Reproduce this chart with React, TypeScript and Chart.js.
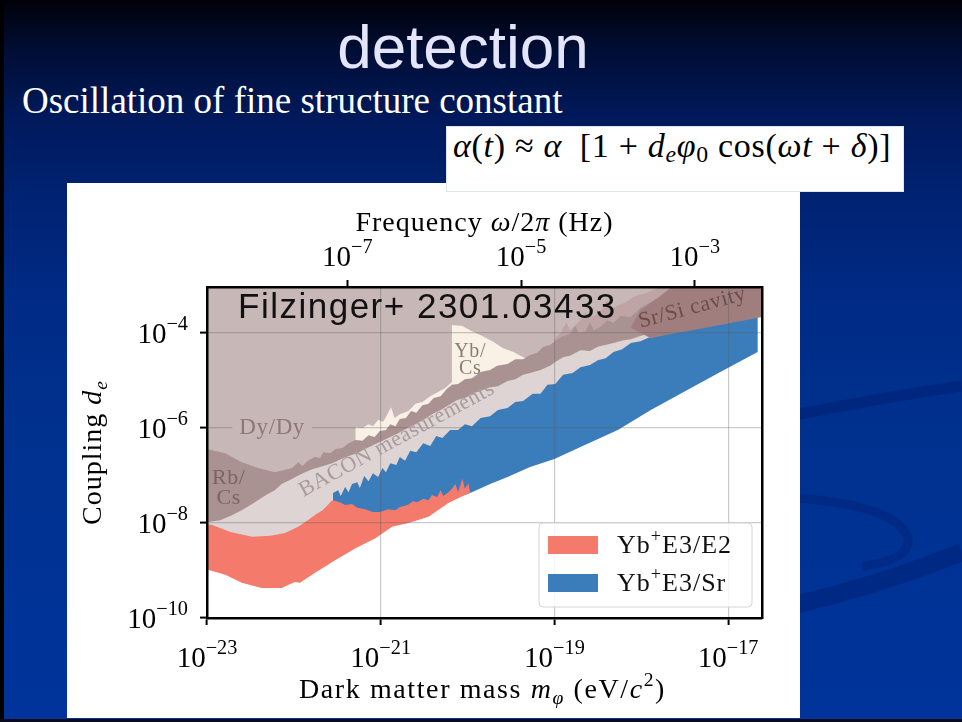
import React, { useEffect, useRef } from 'react';
import { Chart, registerables } from 'chart.js';

Chart.register(...registerables);

const SERIF = '"Liberation Serif", "Times New Roman", serif';
const SANS = '"Liberation Sans", Arial, sans-serif';

// Axis extents (log10 of the values)
const LOG_MASS_RANGE = [-23, -16.61];
const LOG_COUPLING_RANGE = [-10, -3.03];
const MASS_TICKS = [1e-23, 1e-21, 1e-19, 1e-17];
const COUPLING_TICKS = [1e-10, 1e-8, 1e-6, 1e-4];
const FREQUENCY_TICKS = [1e-7, 1e-5, 1e-3];
const HZ_PER_EV = 2.418e14; // f = m c^2 / h

// Region outlines as [log10 m (eV/c^2), log10 d_e]
type Pt = [number, number];

const dyDyRegion: Pt[] = [
  [-23.05, -3.0], [-16.55, -3.0], [-16.55, -3.31], [-17.32, -3.41], [-17.89, -3.73],
  [-18.47, -4.08], [-19.05, -4.48], [-19.62, -4.91], [-20.18, -5.26], [-20.78, -5.96],
  [-21.29, -6.38], [-21.93, -6.86], [-22.39, -7.16], [-23.05, -7.09],
];

const ybCsRegion: Pt[] = [
  [-21.29, -5.98], [-21.21, -6.0], [-21.14, -5.92], [-21.09, -5.96], [-21.03, -5.83],
  [-20.97, -5.87], [-20.91, -5.66], [-20.88, -5.56], [-20.84, -5.79], [-20.78, -5.71],
  [-20.68, -5.64], [-20.6, -5.49], [-20.52, -5.45], [-20.43, -5.33], [-20.34, -5.24],
  [-20.26, -5.16], [-20.18, -5.03], [-20.18, -3.83], [-20.06, -3.85], [-19.95, -3.96],
  [-19.83, -4.06], [-19.7, -4.19], [-19.59, -4.32], [-19.47, -4.4], [-19.36, -4.51],
  [-19.25, -4.57], [-19.25, -4.67], [-19.74, -4.93], [-20.18, -5.26], [-20.78, -5.96],
  [-21.29, -6.4],
];

const ybE3SrRegion: Pt[] = [
  [-21.55, -6.88], [-20.2, -5.73], [-19.05, -4.61], [-17.89, -3.83], [-17.32, -3.52],
  [-16.66, -3.31], [-16.66, -4.4], [-17.09, -4.82], [-17.47, -5.2], [-17.89, -5.62],
  [-18.27, -6.04], [-18.7, -6.4], [-19.0, -6.65], [-19.28, -6.82], [-19.54, -7.03],
  [-19.74, -7.18], [-19.97, -7.37], [-20.2, -7.52], [-20.54, -7.71], [-21.01, -7.98],
  [-21.41, -7.77], [-21.55, -7.62],
];

const ybE3E2Region: Pt[] = [
  [-23.05, -7.79], [-22.04, -7.73], [-21.55, -7.52], [-21.47, -7.56], [-21.41, -7.62],
  [-21.33, -7.6], [-21.27, -7.68], [-21.18, -7.71], [-21.09, -7.77], [-21.01, -7.77],
  [-20.91, -7.71], [-20.83, -7.73], [-20.78, -7.66], [-20.69, -7.62], [-20.63, -7.54],
  [-20.58, -7.56], [-20.51, -7.49], [-20.45, -7.52], [-20.41, -7.41], [-20.35, -7.45],
  [-20.31, -7.31], [-20.28, -7.43], [-20.22, -7.35], [-20.18, -7.28], [-20.14, -7.18],
  [-20.11, -7.35], [-20.06, -7.07], [-20.03, -7.28], [-19.99, -7.16], [-19.97, -7.37],
  [-20.03, -7.41], [-20.22, -7.58], [-20.45, -7.87], [-20.68, -8.0], [-20.87, -8.08],
  [-21.06, -8.32], [-21.29, -8.53], [-21.52, -8.78], [-21.76, -9.05], [-21.93, -9.26],
  [-21.99, -9.24], [-22.14, -9.37], [-22.37, -9.37], [-22.6, -9.26], [-22.79, -9.09],
  [-23.05, -8.95],
];

const baconRegion: Pt[] = [
  [-23.05, -8.0], [-22.94, -8.04], [-22.73, -8.19], [-22.48, -8.29], [-22.27, -8.27],
  [-22.1, -8.21], [-21.95, -8.08], [-21.84, -7.94], [-21.74, -7.81], [-21.67, -7.73],
  [-21.61, -7.62], [-21.56, -7.52], [-21.55, -7.37], [-21.49, -7.31], [-21.46, -7.43],
  [-21.41, -7.24], [-21.37, -7.35], [-21.33, -7.18], [-21.27, -7.14], [-21.24, -7.26],
  [-21.19, -7.01], [-21.14, -7.12], [-21.09, -6.95], [-21.03, -7.03], [-20.98, -6.84],
  [-20.94, -6.93], [-20.89, -6.74], [-20.82, -6.78], [-20.78, -6.61], [-20.72, -6.69],
  [-20.66, -6.48], [-20.59, -6.51], [-20.51, -6.32], [-20.43, -6.38], [-20.36, -6.17],
  [-20.29, -6.21], [-20.2, -6.04], [-20.11, -6.04], [-20.03, -5.92], [-19.95, -5.96],
  [-19.85, -5.79], [-19.74, -5.75], [-19.65, -5.62], [-19.54, -5.58], [-19.45, -5.45],
  [-19.36, -5.43], [-19.25, -5.28], [-19.16, -5.28], [-19.08, -5.09], [-18.99, -5.07],
  [-18.9, -4.88], [-18.79, -4.84], [-18.7, -4.72], [-18.59, -4.67], [-18.5, -4.57],
  [-18.41, -4.53], [-18.32, -4.4], [-18.22, -4.34], [-18.12, -4.21], [-18.01, -4.17],
  [-17.89, -4.08], [-17.89, -3.89], [-18.47, -4.11], [-19.05, -4.46], [-19.62, -4.93],
  [-20.18, -5.28], [-20.78, -6.0], [-21.29, -6.4], [-21.93, -6.88], [-22.39, -7.2],
  [-23.05, -7.31],
];

const srSiEdgeRegion: Pt[] = [
  [-19.01, -4.15], [-18.93, -4.0], [-18.86, -3.77], [-18.82, -3.94], [-18.7, -3.73],
  [-18.64, -3.56], [-18.59, -3.68], [-18.47, -3.56], [-18.39, -3.31], [-18.33, -3.47],
  [-18.18, -3.35], [-18.07, -3.22], [-17.95, -3.16], [-17.84, -3.07], [-17.72, -3.0],
  [-17.32, -3.0], [-17.32, -3.52], [-18.01, -3.83], [-18.47, -4.11], [-18.93, -4.4],
];

const rbCsRegion: Pt[] = [
  [-23.05, -6.42], [-22.79, -6.53], [-22.6, -6.72], [-22.41, -6.84], [-22.22, -6.93],
  [-22.1, -6.88], [-22.02, -6.84], [-21.95, -6.72], [-21.9, -6.8], [-21.84, -6.69],
  [-21.76, -6.61], [-21.7, -6.63], [-21.66, -6.51], [-21.58, -6.53], [-21.52, -6.44],
  [-21.44, -6.42], [-21.37, -6.32], [-21.29, -6.25], [-21.21, -6.27], [-21.14, -6.15],
  [-21.07, -6.19], [-21.01, -6.06], [-20.94, -6.04], [-20.89, -5.92], [-20.83, -5.96],
  [-20.78, -5.81], [-20.71, -5.79], [-20.65, -5.64], [-20.59, -5.68], [-20.52, -5.52],
  [-20.45, -5.49], [-20.39, -5.37], [-20.31, -5.33], [-20.24, -5.18], [-20.18, -5.09],
  [-20.11, -5.07], [-20.03, -4.97], [-19.95, -4.95], [-19.85, -4.82], [-19.74, -4.78],
  [-19.66, -4.69], [-19.54, -4.65], [-19.45, -4.55], [-19.36, -4.55], [-19.28, -4.46],
  [-19.2, -4.42], [-19.13, -4.29], [-19.05, -4.25], [-18.98, -4.15], [-18.9, -4.06],
  [-18.82, -4.02], [-18.76, -3.85], [-18.72, -4.0], [-18.64, -3.96], [-18.59, -3.77],
  [-18.55, -3.94], [-18.47, -3.87], [-18.39, -3.73], [-18.32, -3.79], [-18.24, -3.64],
  [-18.12, -3.66], [-18.01, -3.47], [-17.81, -3.26], [-17.63, -3.09], [-17.32, -3.09],
  [-16.55, -3.09],
  [-16.55, -3.41], [-17.32, -3.68], [-17.89, -4.0], [-18.01, -4.06], [-18.12, -4.13],
  [-18.2, -4.15], [-18.32, -4.21], [-18.5, -4.29], [-18.59, -4.38], [-18.7, -4.36],
  [-18.82, -4.48], [-18.9, -4.51], [-18.99, -4.61], [-19.05, -4.69], [-19.16, -4.78],
  [-19.28, -4.84], [-19.36, -4.88], [-19.45, -4.97], [-19.54, -5.01], [-19.65, -5.12],
  [-19.74, -5.14], [-19.85, -5.22], [-19.93, -5.26], [-20.03, -5.37], [-20.12, -5.41],
  [-20.22, -5.52], [-20.31, -5.62], [-20.41, -5.71], [-20.51, -5.83], [-20.6, -5.92],
  [-20.69, -6.0], [-20.8, -6.11], [-20.89, -6.19], [-20.98, -6.27], [-21.09, -6.36],
  [-21.18, -6.44], [-21.27, -6.53], [-21.37, -6.59], [-21.47, -6.67], [-21.56, -6.74],
  [-21.66, -6.8], [-21.78, -6.86], [-21.87, -6.93], [-21.96, -7.01], [-22.04, -7.09],
  [-22.14, -7.18], [-22.22, -7.31], [-22.3, -7.39], [-22.37, -7.47], [-22.48, -7.6],
  [-22.6, -7.73], [-22.73, -7.85], [-22.85, -7.94], [-23.05, -8.0],
];

const srSiRegion: Pt[] = [
  [-17.63, -3.0], [-16.55, -3.0], [-16.55, -3.64], [-16.97, -3.79], [-17.35, -3.92],
  [-17.66, -4.02], [-17.89, -4.11], [-18.12, -3.89], [-18.01, -3.52], [-17.81, -3.26],
];

// Drawing order: first entry is the lowest layer
const REGIONS = [
  { label: 'Dy/Dy', outline: dyDyRegion, color: '#c8b7b7' },
  { label: 'Yb/Cs', outline: ybCsRegion, color: '#f9f0e6' },
  { label: 'Yb+E3/Sr', outline: ybE3SrRegion, color: '#3b7cba' },
  { label: 'Yb+E3/E2', outline: ybE3E2Region, color: '#f47b6b' },
  { label: 'BACON measurements', outline: baconRegion, color: '#ded4d4' },
  { label: 'Sr/Si cavity edge', outline: srSiEdgeRegion, color: '#bea4a4' },
  { label: 'Rb/Cs', outline: rbCsRegion, color: '#aa9292' },
  { label: 'Sr/Si cavity', outline: srSiRegion, color: '#a17e7e' },
];

const LEGEND_ENTRIES = ['Yb+E3/E2', 'Yb+E3/Sr'];

// In-plot annotations, anchored in data coordinates [log10 m, log10 d_e]
const ANNOTATIONS = [
  { lines: ['Dy/Dy'], at: [-22.25, -6.0], color: '#8e7777', size: 23, angle: 0, align: 'center', baseline: 'middle', box: '#c8b7b7', gap: 0 },
  { lines: ['Rb/', 'Cs'], at: [-22.75, -7.18], color: '#7b6464', size: 22, angle: 0, align: 'center', baseline: 'alphabetic', box: '', gap: 20 },
  { lines: ['Yb/', 'Cs'], at: [-19.97, -4.51], color: '#8d7c70', size: 20, angle: 0, align: 'center', baseline: 'alphabetic', box: '', gap: 17 },
  { lines: ['BACON measurements'], at: [-21.89, -7.45], color: '#ab9b9b', size: 22, angle: -28.5, align: 'left', baseline: 'alphabetic', box: '', gap: 0 },
  { lines: ['Sr/Si cavity'], at: [-18.01, -3.89], color: '#6c4d4d', size: 22, angle: -15, align: 'left', baseline: 'alphabetic', box: '', gap: 0 },
];

type Seg = { text: string; italic?: boolean; scale?: number; rise?: number };

const MASS_TITLE: Seg[] = [
  { text: 'Dark matter mass ' }, { text: 'm', italic: true },
  { text: '\u03c6', italic: true, scale: 0.7, rise: -0.2 }, { text: ' (eV/' },
  { text: 'c', italic: true }, { text: '2', scale: 0.7, rise: 0.42 }, { text: ')' },
];
const FREQUENCY_TITLE: Seg[] = [
  { text: 'Frequency ' }, { text: '\u03c9', italic: true }, { text: '/2' },
  { text: '\u03c0', italic: true }, { text: ' (Hz)' },
];
const COUPLING_TITLE: Seg[] = [
  { text: 'Coupling ' }, { text: 'd', italic: true }, { text: 'e', italic: true, scale: 0.7, rise: -0.2 },
];
const TAG = 'Filzinger+ 2301.03433';

function drawRich(ctx: any, segs: Seg[], x: number, y: number, size: number, align: string, spacing = 0) {
  const fonts = segs.map((s) => `${s.italic ? 'italic ' : ''}${(size * (s.scale ?? 1)).toFixed(1)}px ${SERIF}`);
  ctx.letterSpacing = `${spacing}px`;
  const widths = segs.map((s, i) => {
    ctx.font = fonts[i];
    return ctx.measureText(s.text).width;
  });
  const total = widths.reduce((a, b) => a + b, 0);
  let cx = align === 'left' ? x : align === 'center' ? x - total / 2 : x - total;
  ctx.textAlign = 'left';
  ctx.textBaseline = 'alphabetic';
  segs.forEach((s, i) => {
    ctx.font = fonts[i];
    ctx.fillText(s.text, cx, y - (s.rise ?? 0) * size);
    cx += widths[i];
  });
  ctx.letterSpacing = '0px';
}

function powerLabel(v: number): Seg[] {
  const e = Math.round(Math.log10(v));
  return [{ text: '10' }, { text: (e < 0 ? '\u2212' : '') + Math.abs(e), scale: 0.7, rise: 0.45 }];
}

const decorations = {
  id: 'decorations',
  afterDraw(chart: any) {
    const { ctx, chartArea: area, scales } = chart;
    const xs = scales.x;
    const ys = scales.y;
    const fs = scales.freq;
    ctx.save();
    ctx.fillStyle = '#000';

    // tick labels
    xs.ticks.forEach((t: any) => drawRich(ctx, powerLabel(t.value), xs.getPixelForValue(t.value), area.bottom + 49, 29, 'center'));
    fs.ticks.forEach((t: any) => drawRich(ctx, powerLabel(t.value), fs.getPixelForValue(t.value), area.top - 21, 29, 'center'));
    ys.ticks.forEach((t: any) => drawRich(ctx, powerLabel(t.value), area.left - 19, ys.getPixelForValue(t.value) + 10, 29, 'right'));

    // axis titles
    const cx = (area.left + area.right) / 2;
    const cy = (area.top + area.bottom) / 2;
    drawRich(ctx, FREQUENCY_TITLE, cx, area.top - 56, 28, 'center', 1);
    drawRich(ctx, MASS_TITLE, cx - 2, area.bottom + 80, 28, 'center', 1.6);
    ctx.save();
    ctx.translate(area.left - 106, cy);
    ctx.rotate(-Math.PI / 2);
    drawRich(ctx, COUPLING_TITLE, 0, 0, 28, 'center', 1);
    ctx.restore();

    // region annotations
    for (const a of ANNOTATIONS) {
      const px = xs.getPixelForValue(10 ** a.at[0]);
      const py = ys.getPixelForValue(10 ** a.at[1]);
      ctx.save();
      ctx.translate(px, py);
      ctx.rotate((a.angle * Math.PI) / 180);
      ctx.font = `${a.size}px ${SERIF}`;
      ctx.letterSpacing = '0.6px';
      if (a.box) {
        const w = ctx.measureText(a.lines[0]).width;
        ctx.fillStyle = a.box;
        ctx.fillRect(-w / 2 - 7, -a.size * 0.45, w + 14, a.size * 0.9);
      }
      ctx.fillStyle = a.color;
      ctx.textAlign = a.align;
      ctx.textBaseline = a.baseline;
      a.lines.forEach((ln, i) => ctx.fillText(ln, 0, i * a.gap));
      ctx.letterSpacing = '0px';
      ctx.restore();
    }

    // reference tag
    ctx.font = `35px ${SANS}`;
    ctx.letterSpacing = '1.5px';
    ctx.fillStyle = '#111';
    ctx.textAlign = 'left';
    ctx.textBaseline = 'alphabetic';
    ctx.fillText(TAG, area.left + 31, area.top + 31);
    ctx.letterSpacing = '0px';

    // legend
    const bw = 213;
    const bh = 84;
    const bx = area.right - 10 - bw;
    const by = area.bottom - 11 - bh;
    ctx.beginPath();
    ctx.roundRect(bx, by, bw, bh, 4);
    ctx.fillStyle = 'rgba(255,255,255,0.85)';
    ctx.fill();
    ctx.strokeStyle = '#d4d4d4';
    ctx.lineWidth = 1;
    ctx.stroke();
    LEGEND_ENTRIES.forEach((name, i) => {
      const ds = chart.data.datasets.find((d: any) => d.label === name);
      const top = by + 13 + i * 38;
      ctx.fillStyle = ds.backgroundColor;
      ctx.fillRect(bx + 9, top, 50, 18);
      ctx.fillStyle = '#111';
      const [el, rest] = name.split('+');
      drawRich(ctx, [{ text: el }, { text: '+', scale: 0.7, rise: 0.42 }, { text: rest }], bx + 78, top + 17, 26, 'left', 1);
    });
    ctx.restore();
  },
};

const GRID = 'rgba(90,90,90,0.32)';

function buildConfig(): any {
  const datasets = REGIONS.map((r, i) => ({
    label: r.label,
    data: r.outline.map(([lx, ly]) => ({ x: 10 ** lx, y: 10 ** ly })),
    showLine: true,
    fill: 'shape',
    backgroundColor: r.color,
    borderColor: 'rgba(0,0,0,0)',
    borderWidth: 0,
    pointRadius: 0,
    tension: 0,
    order: REGIONS.length - i,
  }));
  const massMin = 10 ** LOG_MASS_RANGE[0];
  const massMax = 10 ** LOG_MASS_RANGE[1];
  const border = { display: true, color: '#000', width: 2.5, z: 2 };
  return {
    type: 'scatter',
    data: { datasets },
    plugins: [decorations],
    options: {
      animation: false,
      responsive: false,
      devicePixelRatio: 1,
      events: [],
      layout: { padding: { left: 207, top: 287, right: 200, bottom: 104 } },
      plugins: { legend: { display: false }, tooltip: { enabled: false } },
      scales: {
        x: {
          type: 'logarithmic', position: 'bottom', min: massMin, max: massMax,
          afterBuildTicks: (s: any) => { s.ticks = MASS_TICKS.map((value) => ({ value })); },
          afterFit: (s: any) => { s.height = 0; },
          ticks: { display: false },
          grid: { color: GRID, lineWidth: 1.2, z: 1, tickColor: '#000', tickWidth: 2, tickLength: 7 },
          border,
        },
        freq: {
          axis: 'x', type: 'logarithmic', position: 'top',
          min: massMin * HZ_PER_EV, max: massMax * HZ_PER_EV,
          afterBuildTicks: (s: any) => { s.ticks = FREQUENCY_TICKS.map((value) => ({ value })); },
          afterFit: (s: any) => { s.height = 0; },
          ticks: { display: false },
          grid: { drawOnChartArea: false, z: 1, tickColor: '#000', tickWidth: 2, tickLength: 7 },
          border,
        },
        y: {
          type: 'logarithmic', position: 'left',
          min: 10 ** LOG_COUPLING_RANGE[0], max: 10 ** LOG_COUPLING_RANGE[1],
          afterBuildTicks: (s: any) => { s.ticks = COUPLING_TICKS.map((value) => ({ value })); },
          afterFit: (s: any) => { s.width = 0; },
          ticks: { display: false },
          grid: { color: GRID, lineWidth: 1.2, z: 1, tickColor: '#000', tickWidth: 2, tickLength: 7 },
          border,
        },
        yRight: {
          axis: 'y', type: 'logarithmic', position: 'right',
          min: 10 ** LOG_COUPLING_RANGE[0], max: 10 ** LOG_COUPLING_RANGE[1],
          afterFit: (s: any) => { s.width = 0; },
          ticks: { display: false },
          grid: { display: false },
          border,
        },
      },
    },
  };
}

function Sub({ children }: { children: React.ReactNode }) {
  return <span style={{ fontSize: '0.7em', position: 'relative', top: '0.22em' }}>{children}</span>;
}

export default function App() {
  const canvasRef = useRef<HTMLCanvasElement>(null);

  useEffect(() => {
    const canvas = canvasRef.current;
    if (!canvas) return;
    const chart = new Chart(canvas, buildConfig());
    return () => chart.destroy();
  }, []);

  return (
    <div
      style={{
        position: 'fixed', left: 0, top: 0, width: 962, height: 722, overflow: 'hidden',
        background: 'linear-gradient(180deg, #000008 0%, #000e35 7%, #00195a 16%, #002272 27%, #002b86 42%, #00318f 60%, #00349b 100%)',
      }}
    >
      <svg width={962} height={722} style={{ position: 'absolute', left: 0, top: 0 }}>
        <path d="M 790 416 Q 880 398 962 386" stroke="rgba(0,28,110,0.42)" strokeWidth={11} fill="none" />
        <path d="M 795 498 Q 895 505 908 537 Q 912 560 862 566" stroke="rgba(0,28,110,0.35)" strokeWidth={9} fill="none" />
        <path d="M 790 606 Q 880 585 962 552" stroke="rgba(0,28,110,0.42)" strokeWidth={18} fill="none" />
      </svg>
      <div
        style={{
          position: 'absolute', left: 0, top: 16, width: 926, textAlign: 'center',
          fontFamily: SANS, fontSize: 62, lineHeight: '62px', color: '#e4e4fb',
        }}
      >
        detection
      </div>
      <div
        style={{
          position: 'absolute', left: 22, top: 82, fontFamily: SERIF, fontSize: 37,
          lineHeight: '37px', color: '#ffffff', whiteSpace: 'nowrap',
        }}
      >
        Oscillation of fine structure constant
      </div>
      <div style={{ position: 'absolute', left: 67, top: 183, width: 733, height: 535, background: '#ffffff' }} />
      <div
        style={{
          position: 'absolute', left: 446, top: 126, width: 458, height: 66,
          background: '#ffffff', boxShadow: 'inset 0 0 0 1px #dfe4ee',
        }}
      >
        <div
          style={{
            position: 'absolute', left: 7, top: 3, fontFamily: SERIF, fontSize: 34,
            lineHeight: '34px', whiteSpace: 'nowrap', color: '#000', letterSpacing: '0.7px',
          }}
        >
          <i>α</i>(<i>t</i>) ≈ <i>α</i>{'\u2002'}[1 + <i>d</i><Sub><i>e</i></Sub><i>φ</i><Sub>0</Sub> cos(<i>ωt</i> + <i>δ</i>)]
        </div>
      </div>
      <canvas
        ref={canvasRef}
        width={962}
        height={722}
        style={{ position: 'absolute', left: 0, top: 0, width: 962, height: 722 }}
      />
      <div style={{ position: 'absolute', left: 0, top: 0, width: 4, height: 722, background: '#000' }} />
      <div style={{ position: 'absolute', left: 0, top: 719, width: 962, height: 3, background: '#0a0a1e' }} />
    </div>
  );
}
